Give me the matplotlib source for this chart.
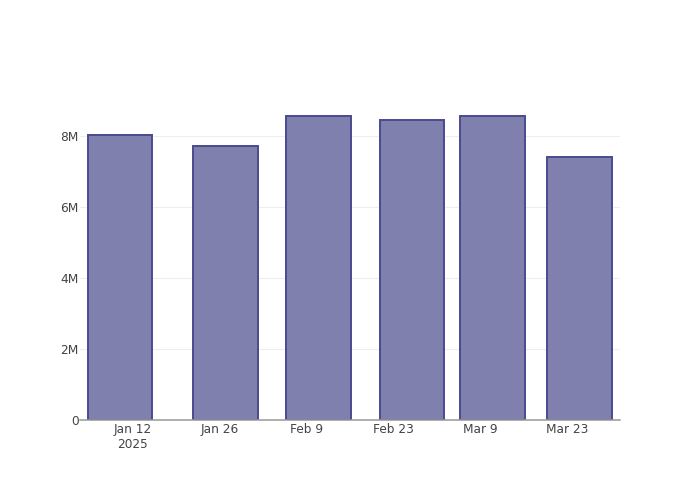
import matplotlib
matplotlib.use("Agg")
import matplotlib.pyplot as plt
import matplotlib.dates as mdates
import numpy as np
from datetime import datetime, timedelta

dates = ["2025-01-10", "2025-01-27", "2025-02-11", "2025-02-26", "2025-03-11", "2025-03-25"]
values = [8.03e6, 7.73e6, 8.56e6, 8.44e6, 8.56e6, 7.42e6]
y_ticks = [0, 2e6, 4e6, 6e6, 8e6]
y_labels = ["0", "2M", "4M", "6M", "8M"]
x_ticks = ["2025-01-12", "2025-01-26", "2025-02-09", "2025-02-23", "2025-03-09", "2025-03-23"]
x_labels = ["Jan 12\n2025", "Jan 26", "Feb 9", "Feb 23", "Mar 9", "Mar 23"]

plt.rcParams['font.family'] = ['DejaVu Sans']

fig = plt.figure(figsize=(7, 5), dpi=100)
ax = fig.add_axes([80/700, 80/500, 540/700, 320/500])

xd = [mdates.date2num(datetime.fromisoformat(d)) for d in dates]
ax.bar(xd, values, width=10.4, color='#7f80ae', edgecolor='#4a4a8f', linewidth=1.4, zorder=3)

ref = mdates.date2num(datetime(2025, 1, 12))
ax.set_xlim(ref - 8.42, ref + 78.48)
ax.set_ylim(0, 9.015e6)

ax.set_yticks(y_ticks)
ax.set_yticklabels(y_labels)
ax.set_xticks([mdates.date2num(datetime.fromisoformat(d)) for d in x_ticks])
ax.set_xticklabels(x_labels, linespacing=1.15)

ax.tick_params(axis='both', length=0, labelsize=8.7, labelcolor='#444444')
ax.tick_params(axis='y', pad=1)
ax.tick_params(axis='x', pad=2.5)
ax.grid(axis='y', color='#eeeeee', linewidth=0.8, zorder=0)
for s in ['top', 'right', 'left']:
    ax.spines[s].set_visible(False)
ax.spines['bottom'].set_color('#999999')
ax.spines['bottom'].set_linewidth(1.1)
ax.spines['bottom'].set_zorder(4)

fig.savefig("out.png", dpi=100)
